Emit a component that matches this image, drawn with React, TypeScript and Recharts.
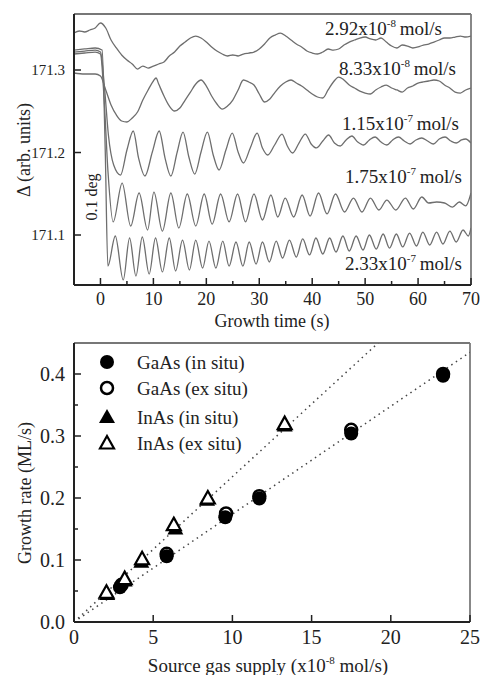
import React from 'react';
import {
  LineChart,
  Line,
  XAxis,
  YAxis,
  ReferenceLine,
  ComposedChart,
  Scatter
} from 'recharts';

const FONT = '"Liberation Serif", "Times New Roman", serif';
const INK = '#222';
const TRACE = '#6e6e6e';

// ---- top panel: delta transients, [time (s), delta] ----
const trace292: [number, number][] = [
  [-5, 171.3448], [-4, 171.3473], [-3, 171.3461], [-2, 171.3485], [-1, 171.3509], [0, 171.357],
  [1, 171.3509], [2, 171.3364], [3, 171.3267], [4, 171.3182], [5, 171.3121], [6, 171.3073],
  [7, 171.3012], [8, 171.3048], [9, 171.3024], [10, 171.3048], [11, 171.3073], [12, 171.3097],
  [13, 171.317], [14, 171.3218], [15, 171.3291], [16, 171.3339], [17, 171.3388], [18, 171.3412],
  [19, 171.3388], [20, 171.3339], [21, 171.3279], [22, 171.323], [23, 171.3194], [24, 171.317],
  [25, 171.3182], [26, 171.317], [27, 171.3194], [28, 171.3206], [29, 171.3218], [30, 171.3255],
  [31, 171.3315], [32, 171.3388], [33, 171.3424], [34, 171.3448], [35, 171.3412], [36, 171.3364],
  [37, 171.3315], [38, 171.3279], [39, 171.323], [40, 171.3206], [41, 171.3194], [42, 171.3218],
  [43, 171.3255], [44, 171.3242], [45, 171.3255], [46, 171.3303], [47, 171.3339], [48, 171.3364],
  [49, 171.3388], [50, 171.34], [51, 171.3376], [52, 171.3364], [53, 171.3388], [54, 171.3339],
  [55, 171.3291], [56, 171.3267], [57, 171.3303], [58, 171.3291], [59, 171.3267], [60, 171.3279],
  [61, 171.3303], [62, 171.3315], [63, 171.3339], [64, 171.3364], [65, 171.3388], [66, 171.3388],
  [67, 171.34], [68, 171.3412], [69, 171.34], [70, 171.3412]
];

const trace833: [number, number][] = [
  [-5, 171.2964], [-3, 171.2952], [-1, 171.2952], [0, 171.2927], [1, 171.2758], [2, 171.2576],
  [3, 171.2455], [4, 171.2382], [5, 171.237], [6, 171.2418], [7, 171.2491], [8, 171.2636],
  [9, 171.2758], [10, 171.2867], [10.5, 171.2903], [11, 171.283], [12, 171.2685], [13, 171.2564],
  [14, 171.2503], [15, 171.2539], [16, 171.2636], [17, 171.2733], [18, 171.283], [19, 171.2879],
  [20, 171.2806], [21, 171.2685], [22, 171.2588], [23, 171.2527], [24, 171.2564], [25, 171.2636],
  [26, 171.2758], [27, 171.2879], [28, 171.2855], [29, 171.2818], [30, 171.2709], [31, 171.2612],
  [32, 171.2648], [33, 171.2733], [34, 171.2806], [35, 171.2855], [36, 171.2879], [37, 171.2842],
  [38, 171.2806], [39, 171.2758], [40, 171.2709], [41, 171.2673], [42, 171.2661], [43, 171.2758],
  [44, 171.2855], [45, 171.2915], [46, 171.2879], [47, 171.2818], [48, 171.2782], [49, 171.2745],
  [50, 171.2721], [51, 171.2709], [52, 171.2758], [53, 171.2794], [54, 171.2818], [55, 171.2782],
  [56, 171.2758], [57, 171.2733], [58, 171.2782], [59, 171.2806], [60, 171.2842], [61, 171.2855],
  [62, 171.2867], [63, 171.2879], [64, 171.2867], [65, 171.2818], [66, 171.2782], [67, 171.2733],
  [68, 171.2721], [69, 171.2758], [70, 171.2782]
];

const trace115: [number, number][] = [
  [-5, 171.3218], [-3, 171.323], [-1, 171.3242], [0, 171.3218], [0.8, 171.2758], [1.5, 171.2212],
  [2.5, 171.1848], [3.8, 171.1727], [5, 171.203], [6.2, 171.2261], [7.2, 171.1933], [8.4, 171.1715],
  [9.8, 171.2006], [11.1, 171.2261], [12.2, 171.1933], [13.3, 171.1715], [14.5, 171.2006],
  [15.6, 171.2248], [16.7, 171.1945], [17.8, 171.1739], [19, 171.2006], [20.2, 171.2248],
  [21.3, 171.197], [22.4, 171.1788], [23.7, 171.203], [24.9, 171.2236], [26, 171.2006],
  [27, 171.1873], [28.3, 171.2055], [29.6, 171.2236], [30.6, 171.2055], [31.6, 171.197],
  [32.9, 171.2091], [34.3, 171.2224], [35.3, 171.2079], [36.3, 171.1994], [37.5, 171.2115],
  [38.7, 171.2224], [39.8, 171.2103], [40.8, 171.2055], [42, 171.2139], [43.1, 171.2212],
  [44.2, 171.2115], [45.3, 171.2079], [46.4, 171.2152], [47.5, 171.22], [48.6, 171.2127],
  [49.7, 171.2091], [50.8, 171.2152], [51.9, 171.2188], [53, 171.2127], [54.1, 171.2091],
  [55.2, 171.2152], [56.3, 171.2188], [57.4, 171.2139], [58.5, 171.2103], [59.6, 171.2152],
  [60.7, 171.2176], [61.8, 171.2139], [62.9, 171.2103], [64, 171.2164], [65.1, 171.2188],
  [66.2, 171.2139], [67.2, 171.2115], [68.2, 171.2152], [69, 171.2164], [70, 171.2115]
];

const trace175: [number, number][] = [
  [-5, 171.3194], [-3, 171.3206], [-1, 171.3218], [0, 171.3194], [0.7, 171.2636], [1.4, 171.1788],
  [2.4, 171.1158], [4.1, 171.163], [5.7, 171.1109], [7.3, 171.1509], [8.9, 171.1061], [10.1, 171.1521],
  [11.7, 171.1048], [13.3, 171.1509], [14.8, 171.1085], [16.4, 171.1497], [18, 171.1109],
  [19.6, 171.1497], [21.1, 171.1133], [22.7, 171.1497], [24.3, 171.1158], [25.9, 171.1497],
  [27.4, 171.1158], [29, 171.1497], [30.6, 171.1182], [32.2, 171.1485], [33.5, 171.1218],
  [34.9, 171.1448], [36.5, 171.1218], [38.1, 171.1485], [39.6, 171.123], [41.2, 171.1509],
  [42.8, 171.1255], [44.4, 171.1497], [46.1, 171.1279], [47.8, 171.1448], [49.4, 171.1279],
  [51, 171.1448], [52.6, 171.1303], [54.1, 171.1424], [55.8, 171.1303], [57.6, 171.1448],
  [59.1, 171.1315], [60.7, 171.1461], [62, 171.1388], [63.5, 171.14], [65, 171.1388],
  [66.5, 171.1339], [67.8, 171.14], [69, 171.1352], [70, 171.1509]
];

const trace233: [number, number][] = [
  [-5, 171.3242], [-3, 171.3255], [-1, 171.3267], [0.3, 171.3242], [0.9, 171.203], [1.4, 171.0624],
  [2.8, 171.0988], [4.3, 171.0455], [5.5, 171.0964], [6.7, 171.0503], [7.9, 171.0976], [9.2, 171.0527],
  [10.4, 171.0964], [11.7, 171.0552], [13, 171.0964], [14.2, 171.0564], [15.5, 171.0939],
  [16.8, 171.0576], [18, 171.0939], [19.3, 171.06], [20.5, 171.0927], [21.8, 171.06], [23.1, 171.0927],
  [24.3, 171.0624], [25.6, 171.0915], [26.9, 171.0624], [28.1, 171.0915], [29.4, 171.0648],
  [30.6, 171.0915], [31.9, 171.0673], [33.2, 171.0927], [34.4, 171.0721], [35.7, 171.0939],
  [37, 171.0733], [38.2, 171.0952], [39.5, 171.0758], [40.7, 171.0964], [42, 171.077],
  [43.3, 171.0964], [44.5, 171.0794], [45.8, 171.0988], [47, 171.0806], [48.3, 171.0988],
  [49.6, 171.0818], [50.8, 171.1], [52.1, 171.083], [53.4, 171.1012], [54.6, 171.0842],
  [55.9, 171.1012], [57.1, 171.0855], [58.4, 171.1024], [59.7, 171.0867], [60.9, 171.1036],
  [62.2, 171.0879], [63.5, 171.1036], [64.7, 171.0891], [66, 171.1048], [67.2, 171.0915],
  [68.5, 171.1061], [69.5, 171.0988], [70, 171.1085]
];

const traceNames = ['2.92', '8.33', '1.15', '1.75', '2.33'];
const traceExps = ['-8', '-8', '-7', '-7', '-7'];

const timeTicks = [0, 5, 10, 15, 20, 25, 30, 35, 40, 45, 50, 55, 60, 65, 70];
const deltaTicks = [171.1, 171.2, 171.3];
const deltaDomain = [171.0394, 171.3679];

// ---- bottom panel: growth rate vs source supply ----
const gaasInSitu = [
  { x: 2.9, y: 0.056 }, { x: 5.85, y: 0.106 }, { x: 9.55, y: 0.169 },
  { x: 11.7, y: 0.199 }, { x: 17.5, y: 0.304 }, { x: 23.3, y: 0.397 }
];
const gaasExSitu = [
  { x: 3.0, y: 0.06 }, { x: 5.85, y: 0.11 }, { x: 9.6, y: 0.175 },
  { x: 11.7, y: 0.203 }, { x: 17.5, y: 0.31 }, { x: 23.3, y: 0.4 }
];
const inasInSitu = [
  { x: 2.1, y: 0.045 }, { x: 3.2, y: 0.067 }, { x: 4.25, y: 0.097 },
  { x: 6.4, y: 0.151 }, { x: 8.4, y: 0.197 }, { x: 13.3, y: 0.317 }
];
const inasExSitu = [
  { x: 2.05, y: 0.048 }, { x: 3.2, y: 0.07 }, { x: 4.3, y: 0.102 },
  { x: 6.3, y: 0.157 }, { x: 8.45, y: 0.2 }, { x: 13.3, y: 0.32 }
];
const gaasFit = [{ x: 0, y: 0 }, { x: 25, y: 0.435 }];
const inasFit = [{ x: 0, y: 0 }, { x: 19.2, y: 0.45 }];

const legendNames = ['GaAs (in situ)', 'GaAs (ex situ)', 'InAs (in situ)', 'InAs (ex situ)'];

const supplyTicks = [0, 5, 10, 15, 20, 25];
const rateTicks = [0, 0.05, 0.1, 0.15, 0.2, 0.25, 0.3, 0.35, 0.4];

const toPts = (arr: [number, number][]) => arr.map(([t, v]) => ({ t, v }));
const traces = [trace292, trace833, trace115, trace175, trace233].map(toPts);

// inward ticks, label only on majors
const BottomTick = ({ x, y, payload, step, size, gap }: any) => {
  const major = Math.abs(payload.value / step - Math.round(payload.value / step)) < 1e-6;
  return (
    <g>
      <line x1={x} y1={y} x2={x} y2={y - (major ? 7 : 4)} stroke={INK} strokeWidth={1.5} />
      {major && (
        <text x={x} y={y + gap} textAnchor="middle" fontSize={size} fill={INK} fontFamily={FONT}>
          {payload.value}
        </text>
      )}
    </g>
  );
};

const LeftTick = ({ x, y, payload, step, size, digits }: any) => {
  const major = Math.abs(payload.value / step - Math.round(payload.value / step)) < 1e-6;
  return (
    <g>
      <line x1={x} y1={y} x2={x + (major ? 7 : 4)} y2={y} stroke={INK} strokeWidth={1.5} />
      {major && (
        <text x={x - 9} y={y} dy="0.35em" textAnchor="end" fontSize={size} fill={INK} fontFamily={FONT}>
          {payload.value.toFixed(digits)}
        </text>
      )}
    </g>
  );
};

const Dot = ({ cx, cy }: any) => <circle cx={cx} cy={cy} r={7} fill="#000" />;
const Ring = ({ cx, cy }: any) => <circle cx={cx} cy={cy} r={6} fill="#fff" stroke="#000" strokeWidth={2.5} />;
const Tri = ({ cx, cy }: any) => (
  <path d={`M${cx},${cy - 8}L${cx + 8},${cy + 6}L${cx - 8},${cy + 6}Z`} fill="#000" />
);
const OpenTri = ({ cx, cy }: any) => (
  <path d={`M${cx},${cy - 7}L${cx + 7},${cy + 5.5}L${cx - 7},${cy + 5.5}Z`} fill="#fff" stroke="#000" strokeWidth={2.2} strokeLinejoin="miter" />
);
const legendShapes = [Dot, Ring, Tri, OpenTri];

const labelPos = [
  { x: 442, y: 35 }, { x: 456, y: 75 }, { x: 459, y: 130 }, { x: 462, y: 183 }, { x: 462, y: 270 }
];

export default function App() {
  return (
    <div style={{ position: 'absolute', left: 0, top: 0, width: 480, height: 675, background: '#fff', fontFamily: FONT }}>
      <div style={{ position: 'relative', width: 480, height: 335 }}>
        <LineChart width={480} height={335} margin={{ top: 14, right: 9, bottom: 20, left: 0 }}>
          <XAxis
            dataKey="t"
            type="number"
            domain={[-5, 70]}
            ticks={timeTicks}
            interval={0}
            allowDataOverflow
            height={30}
            tickSize={0}
            tickMargin={0}
            tickLine={false}
            axisLine={{ stroke: INK, strokeWidth: 2 }}
            tick={<BottomTick step={10} size={18} gap={20} />}
          />
          <YAxis
            type="number"
            domain={deltaDomain}
            ticks={deltaTicks}
            interval={0}
            allowDataOverflow
            width={74}
            tickSize={0}
            tickMargin={0}
            tickLine={false}
            axisLine={{ stroke: INK, strokeWidth: 2 }}
            tick={<LeftTick step={0.1} size={15} digits={1} />}
          />
          <ReferenceLine x={70} stroke="#888" strokeWidth={2} />
          <ReferenceLine y={deltaDomain[1]} stroke="#777" strokeWidth={2} />
          {traces.map((d, i) => (
            <Line
              key={i}
              data={d}
              dataKey="v"
              type="monotone"
              stroke={TRACE}
              strokeWidth={1.3}
              dot={false}
              isAnimationActive={false}
            />
          ))}
        </LineChart>
        <svg width={480} height={335} style={{ position: 'absolute', left: 0, top: 0, pointerEvents: 'none' }}>
          {traceNames.map((n, i) => (
            <text key={n + i} x={labelPos[i].x} y={labelPos[i].y} textAnchor="end" fontSize={19} fill={INK} fontFamily={FONT}>
              {n}x10
              <tspan dy={-8} fontSize={11}>{traceExps[i]}</tspan>
              <tspan dy={8} fontSize={19}>{'\u2009'}mol/s</tspan>
            </text>
          ))}
          <text x={272} y={327} textAnchor="middle" fontSize={18} fill={INK} fontFamily={FONT}>
            Growth time (s)
          </text>
          <text x={24} y={150} transform="rotate(-90 24 150)" textAnchor="middle" dy="0.35em" fontSize={18} fill={INK} fontFamily={FONT}>
            Δ (arb. units)
          </text>
          <text x={91} y={197} transform="rotate(-90 91 197)" textAnchor="middle" dy="0.35em" fontSize={16} fill={INK} fontFamily={FONT}>
            0.1 deg
          </text>
        </svg>
      </div>

      <div style={{ position: 'relative', width: 480, height: 340 }}>
        <ComposedChart width={480} height={340} margin={{ top: 8, right: 10, bottom: 23, left: 0 }}>
          <XAxis
            dataKey="x"
            type="number"
            domain={[0, 25]}
            ticks={supplyTicks}
            interval={0}
            allowDataOverflow
            height={30}
            tickSize={0}
            tickMargin={0}
            tickLine={false}
            axisLine={{ stroke: INK, strokeWidth: 2 }}
            tick={<BottomTick step={5} size={20} gap={22} />}
          />
          <YAxis
            dataKey="y"
            type="number"
            domain={[0, 0.45]}
            ticks={rateTicks}
            interval={0}
            allowDataOverflow
            width={74}
            tickSize={0}
            tickMargin={0}
            tickLine={false}
            axisLine={{ stroke: INK, strokeWidth: 2 }}
            tick={<LeftTick step={0.1} size={20} digits={1} />}
          />
          <ReferenceLine x={25} stroke="#888" strokeWidth={2} />
          <ReferenceLine y={0.45} stroke="#777" strokeWidth={2} />
          <Line data={gaasFit} dataKey="y" type="linear" stroke="#444" strokeWidth={1.5} strokeDasharray="1.5 4" dot={false} isAnimationActive={false} />
          <Line data={inasFit} dataKey="y" type="linear" stroke="#444" strokeWidth={1.5} strokeDasharray="1.5 4" dot={false} isAnimationActive={false} />
          <Scatter data={gaasExSitu} shape={Ring} isAnimationActive={false} />
          <Scatter data={gaasInSitu} shape={Dot} isAnimationActive={false} />
          <Scatter data={inasInSitu} shape={Tri} isAnimationActive={false} />
          <Scatter data={inasExSitu} shape={OpenTri} isAnimationActive={false} />
        </ComposedChart>
        <svg width={480} height={340} style={{ position: 'absolute', left: 0, top: 0, pointerEvents: 'none' }}>
          {legendNames.map((n, i) => {
            const S = legendShapes[i];
            const cy = [27, 53, 82, 108][i];
            return (
              <g key={n}>
                <S cx={107} cy={cy} />
                <text x={137} y={cy} dy="0.35em" fontSize={19} fill={INK} fontFamily={FONT}>{n}</text>
              </g>
            );
          })}
          <text x={268} y={337} textAnchor="middle" fontSize={19} fill={INK} fontFamily={FONT}>
            Source gas supply (x10
            <tspan dy={-8} fontSize={11}>-8</tspan>
            <tspan dy={8} fontSize={19}> mol/s)</tspan>
          </text>
          <text x={25} y={158} transform="rotate(-90 25 158)" textAnchor="middle" dy="0.35em" fontSize={18} fill={INK} fontFamily={FONT}>
            Growth rate (ML/s)
          </text>
        </svg>
      </div>
    </div>
  );
}
